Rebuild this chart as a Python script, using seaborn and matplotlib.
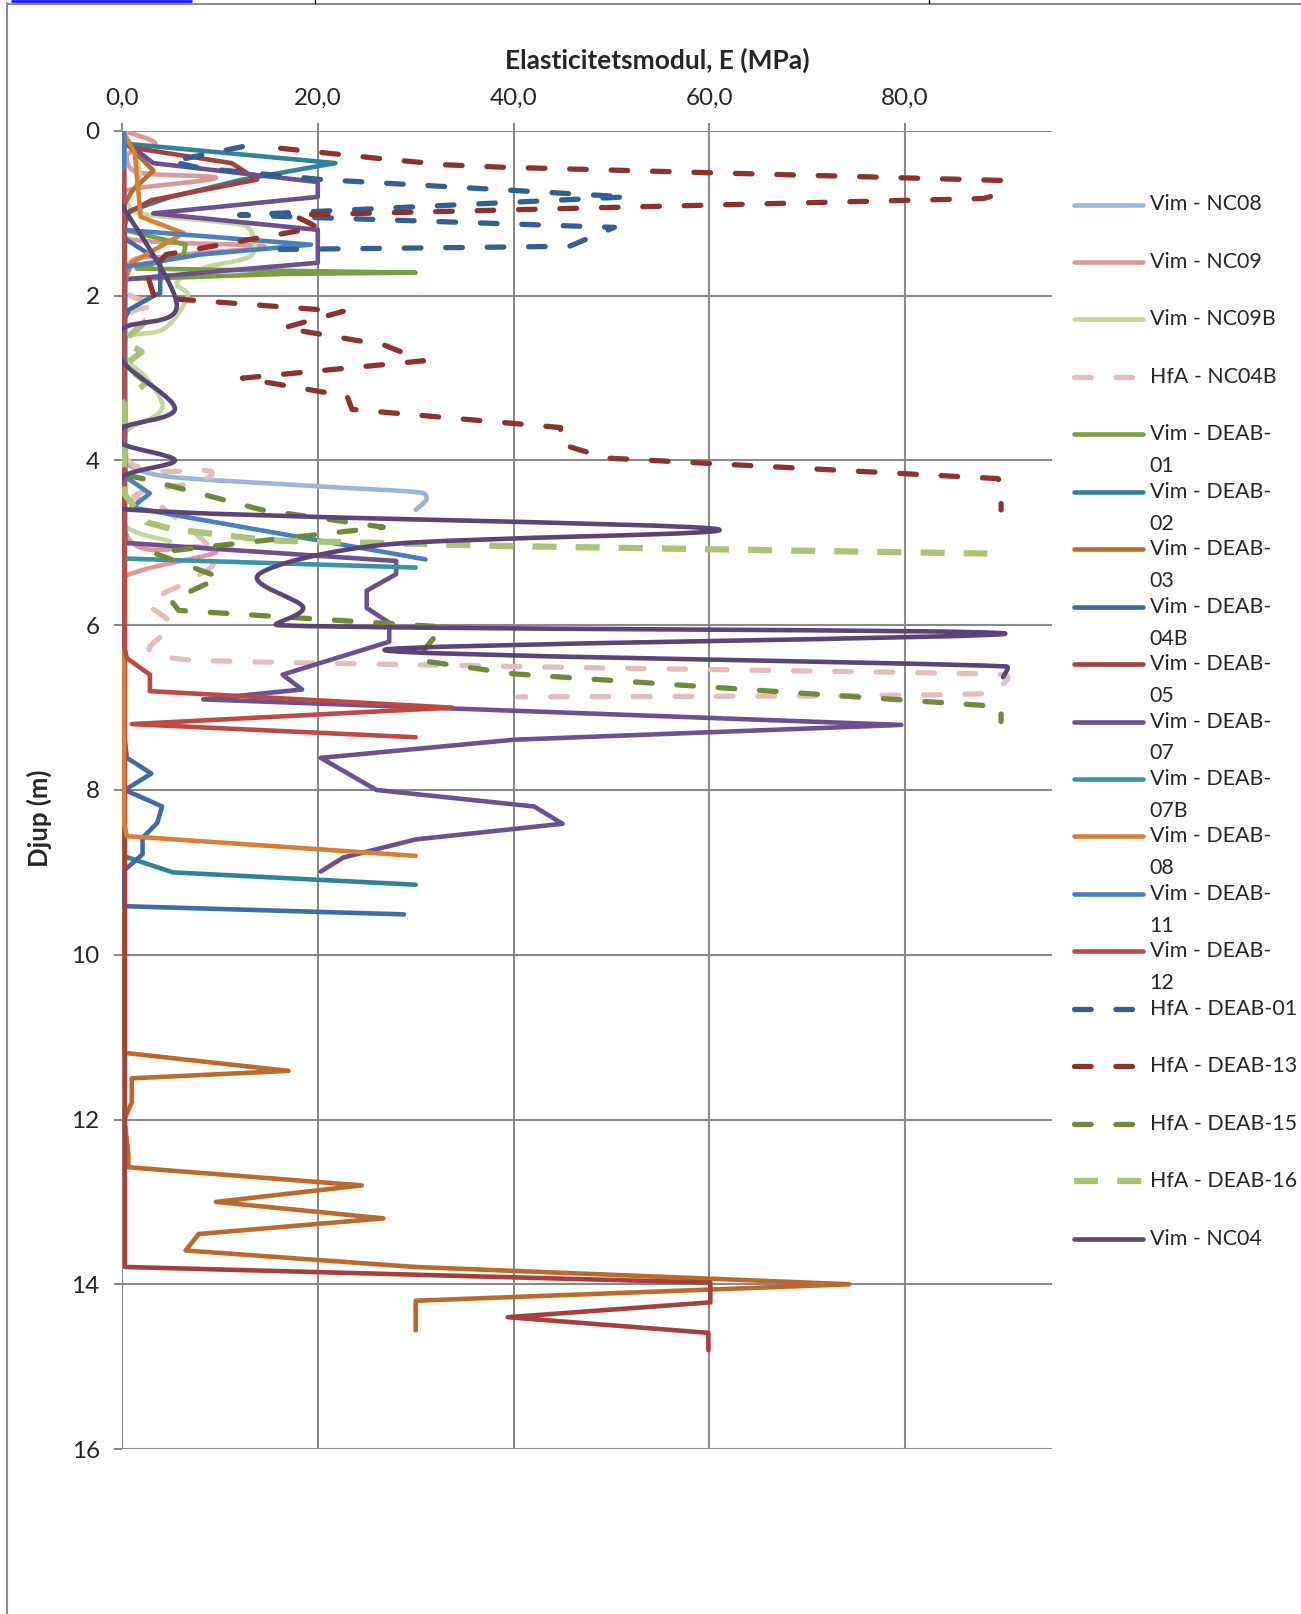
import numpy as np
import matplotlib
matplotlib.use("Agg")
import matplotlib.pyplot as plt
from matplotlib.path import Path
from matplotlib.patches import PathPatch
from matplotlib.lines import Line2D
import seaborn as sns

# ---------------- data ----------------
x_ticks = [0, 20, 40, 60, 80]
x_tick_labels = ["0,0", "20,0", "40,0", "60,0", "80,0"]
y_ticks = [0, 2, 4, 6, 8, 10, 12, 14, 16]
y_tick_labels = ["0", "2", "4", "6", "8", "10", "12", "14", "16"]

legend_labels = ["Vim - NC08", "Vim - NC09", "Vim - NC09B", "HfA - NC04B",
                 "Vim - DEAB-\n01", "Vim - DEAB-\n02", "Vim - DEAB-\n03", "Vim - DEAB-\n04B",
                 "Vim - DEAB-\n05", "Vim - DEAB-\n07", "Vim - DEAB-\n07B", "Vim - DEAB-\n08",
                 "Vim - DEAB-\n11", "Vim - DEAB-\n12", "HfA - DEAB-01", "HfA - DEAB-13",
                 "HfA - DEAB-15", "HfA - DEAB-16", "Vim - NC04"]

nc08_E = [0.1, 0.2, 4.3, 19.6, 30.6, 31.1, 30.0]
nc08_z = [3.9, 4.03, 4.19, 4.31, 4.39, 4.47, 4.6]

nc09_E = [0.2, 3.4, 0.6, 1.5, 9.6, 0.5, 0.3, 0.3, 14.5, 5.0, 0.5, 0.3, 8.0, 9.5, 3.0, 0.3]
nc09_z = [0.0, 0.15, 0.28, 0.5, 0.57, 0.72, 0.9, 1.3, 1.4, 1.52, 1.7, 4.85, 5.05, 5.12, 5.3, 5.4]

nc09b_E = [0.2, 1.2, 1.8, 0.6, 1.75, 12.3, 13.4, 13.1, 8.7, 6.2, 5.6, 6.7, 4.3, 0.5, 0.3, 2.5, 4.1, 3.5, 0.3, 0.3, 0.1, 4.9]
nc09b_z = [0.0, 0.25, 0.55, 0.85, 1.0, 1.14, 1.28, 1.52, 1.65, 1.77, 1.87, 2.01, 2.4, 2.5, 2.75, 3.0, 3.3, 3.45, 3.67, 4.1, 4.76, 4.98]

nc04b_E = [0.3, 0.3, 3.6, 0.3, 0.3, 9.0, 7.5, 3.0, 1.2, 3.5, 9.5, 7.0, 4.5, 2.8, 5.0, 2.8, 7.0, 40.0, 88.0, 90.5, 88.0, 40.4]
nc04b_z = [0.0, 1.9, 2.1, 2.3, 3.95, 4.13, 4.27, 4.35, 4.45, 4.52, 5.14, 5.45, 5.6, 5.75, 6.0, 6.3, 6.42, 6.5, 6.59, 6.63, 6.83, 6.87]

deab01_E = [0.2, 0.2, 6.5, 6.3, 1.5, 30.0, 16.5, 0.2, 0.2]
deab01_z = [0.0, 1.2, 1.38, 1.5, 1.67, 1.72, 1.735, 1.8, 4.3]

deab02_E = [0.0, 21.8, 12.3, 5.0, 0.8, 0.1, 0.1, 5.2, 30.0]
deab02_z = [0.15, 0.39, 0.59, 0.8, 0.97, 1.2, 8.8, 9.0, 9.15]

deab03_E = [0.5, 3.2, 1.0, 0.2, 0.2, 17.0, 1.0, 1.0, 0.25, 0.65, 0.65, 24.5, 9.6, 26.7, 7.85, 6.5, 29.9, 74.3, 30.0, 30.0]
deab03_z = [0.16, 0.48, 0.73, 0.9, 11.19, 11.41, 11.5, 11.79, 12.0, 12.42, 12.58, 12.8, 13.0, 13.2, 13.39, 13.59, 13.79, 14.0, 14.2, 14.56]

deab04b_E = [0.2, 0.2, 3.9, 3.9, 3.4, 0.7, 0.1, 0.1, 0.5, 3.0, 0.3, 4.1, 3.6, 2.1, 2.1, 0.1, 0.1, 28.8]
deab04b_z = [0.0, 1.3, 1.58, 1.97, 1.99, 2.17, 2.33, 7.2, 7.61, 7.8, 8.0, 8.2, 8.4, 8.58, 8.78, 8.99, 9.41, 9.51]

deab05_E = [0.0, 1.4, 11.2, 13.8, 3.0, 0.5, 0.3, 0.3, 60.1, 60.1, 39.4, 59.9, 59.9]
deab05_z = [0.15, 0.21, 0.39, 0.59, 0.84, 1.0, 1.1, 13.79, 13.98, 14.22, 14.4, 14.59, 14.8]

deab07_E = [0.0, 3.2, 20.0, 20.0, 3.2, 20.0, 20.0, 0.3, 0.3, 28.0, 28.0, 25.0, 25.0, 27.3, 27.3, 16.4, 18.4, 8.3, 79.6, 40.0, 20.3, 26.0, 42.1, 45.0, 30.0, 22.6, 20.3]
deab07_z = [0.1, 0.39, 0.62, 0.8, 1.0, 1.2, 1.6, 1.8, 5.0, 5.22, 5.38, 5.58, 5.79, 5.97, 6.2, 6.6, 6.78, 6.9, 7.21, 7.39, 7.61, 8.0, 8.2, 8.41, 8.6, 8.82, 8.99]

deab07b_E = [0.2, 0.2, 30.0]
deab07b_z = [0.0, 5.19, 5.3]

deab08_E = [0.0, 1.3, 1.9, 6.3, 1.0, 0.2, 0.2, 0.5, 30.0]
deab08_z = [0.0, 0.26, 1.04, 1.24, 1.6, 1.85, 8.4, 8.56, 8.8]

deab11_E = [0.2, 0.2, 19.3, 8.0, 0.3, 0.3, 0.5, 2.85, 1.0, 31.0]
deab11_z = [0.0, 1.2, 1.38, 1.5, 1.65, 4.1, 4.21, 4.4, 4.57, 5.2]

deab12_E = [0.2, 0.2, 0.5, 2.85, 2.85, 33.7, 1.0, 30.0]
deab12_z = [0.5, 6.25, 6.4, 6.6, 6.8, 7.0, 7.2, 7.36]

hfa01_E = [12.3, 5.0, 8.0, 20.5, 51.6, 12.0, 50.3, 45.7, 14.7]
hfa01_z = [0.19, 0.37, 0.45, 0.59, 0.80, 1.02, 1.17, 1.40, 1.44]

hfa13_E = [16.2, 26.0, 33.0, 39.0, 89.8, 89.8, 88.0, 17.5, 20.0, 4.5, 2.6, 3.3, 22.6, 16.5, 26.8, 30.8, 12.3, 23.0, 23.5, 44.8, 44.8, 49.5, 89.5, 89.8, 89.8]
hfa13_z = [0.21, 0.33, 0.41, 0.44, 0.6, 0.76, 0.82, 1.02, 1.17, 1.5, 1.75, 2.02, 2.19, 2.39, 2.6, 2.79, 3.0, 3.22, 3.38, 3.6, 3.8, 3.97, 4.22, 4.28, 4.6]

hfa15_E = [0.5, 2.5, 14.3, 26.7, 3.2, 10.0, 5.0, 5.8, 32.8, 30.0, 40.0, 87.6, 89.8, 89.8]
hfa15_z = [4.18, 4.23, 4.6, 4.81, 5.12, 5.42, 5.7, 5.82, 6.02, 6.42, 6.59, 6.97, 7.0, 7.17]

hfa16_E = [2.5, 0.2, 2.0, 0.2, 2.5, 0.2, 0.2, 2.5, 5.0, 15.0, 40.0, 88.4]
hfa16_z = [2.3, 2.55, 2.68, 2.85, 3.05, 3.3, 4.4, 4.75, 4.83, 4.97, 5.04, 5.13]

nc04_E = [0.0, 5.6, 0.1, 0.1, 5.4, 0.1, 0.1, 5.4, 0.1, 0.1, 60.6, 27.0, 14.0, 18.5, 16.0, 90.2, 26.8, 90.3, 90.0]
nc04_z = [0.9, 2.12, 2.4, 2.8, 3.37, 3.6, 3.8, 4.0, 4.2, 4.59, 4.83, 5.02, 5.38, 5.78, 6.0, 6.1, 6.3, 6.5, 6.63]

# ---------------- styling ----------------
sns.set_style("white")
plt.rcParams["font.family"] = ["Lato", "DejaVu Sans"]

W, H = 1301, 1614
fig = plt.figure(figsize=(W / 100, H / 100), dpi=100)
def fx(p): return p / W
def fy(p): return 1 - p / H

ax_l, ax_r, ax_t, ax_b = 122, 1052, 131, 1449
ax = fig.add_axes([fx(ax_l), fy(ax_b), fx(ax_r - ax_l), (ax_b - ax_t) / H])
XMAX, ZMAX = 95, 16
SX = (ax_r - ax_l) / XMAX          # px per MPa
SY = (ax_b - ax_t) / ZMAX          # px per m

SOLID_LW = 3.3
DASH_LW = 3.8
DASH = (0, (3.15, 4.7))
DASH16 = (0, (3.85, 3.05))

series = [
    (nc08_E, nc08_z, "#9BB4D8", "solid", True),
    (nc09_E, nc09_z, "#D99A98", "solid", True),
    (nc09b_E, nc09b_z, "#C3D7A0", "solid", True),
    (nc04b_E, nc04b_z, "#E3BDBC", "dash", True),
    (deab01_E, deab01_z, "#7B9C41", "solid", False),
    (deab02_E, deab02_z, "#338398", "solid", False),
    (deab03_E, deab03_z, "#B96A2C", "solid", False),
    (deab04b_E, deab04b_z, "#416BA5", "solid", False),
    (deab05_E, deab05_z, "#A5403E", "solid", False),
    (deab07_E, deab07_z, "#6C5190", "solid", False),
    (deab07b_E, deab07b_z, "#3B93AA", "solid", False),
    (deab08_E, deab08_z, "#D97E35", "solid", False),
    (deab11_E, deab11_z, "#4A7EBD", "solid", False),
    (deab12_E, deab12_z, "#BC4B48", "solid", False),
    (hfa01_E, hfa01_z, "#345F92", "dash", False),
    (hfa13_E, hfa13_z, "#8C3330", "dash", False),
    (hfa15_E, hfa15_z, "#6E8A3A", "dash", False),
    (hfa16_E, hfa16_z, "#A8C474", "dash16", False),
    (nc04_E, nc04_z, "#5B4476", "solid", True),
]

def style_of(kind):
    if kind == "solid":
        return dict(lw=SOLID_LW, ls="-", cap="round")
    if kind == "dash":
        return dict(lw=DASH_LW, ls=DASH, cap="round")
    return dict(lw=4.5, ls=DASH16, cap="butt")

def smooth_path(xs, ys, clamp=0.45):
    # Catmull-Rom style Bezier smoothing (like Excel "smoothed line"),
    # control handles limited relative to segment length (pixel space)
    P = np.column_stack([np.asarray(xs, float) * SX, np.asarray(ys, float) * SY])
    n = len(P)
    verts = [P[0]]
    codes = [Path.MOVETO]
    def lim(v, L):
        m = np.hypot(*v)
        return v if m <= clamp * L or m == 0 else v * (clamp * L / m)
    for i in range(n - 1):
        p0 = P[i - 1] if i > 0 else P[i]
        p1, p2 = P[i], P[i + 1]
        p3 = P[i + 2] if i + 2 < n else P[i + 1]
        L = np.hypot(*(p2 - p1))
        c1 = p1 + lim((p2 - p0) / 6.0, L)
        c2 = p2 - lim((p3 - p1) / 6.0, L)
        verts += [c1, c2, p2]
        codes += [Path.CURVE4] * 3
    V = np.array(verts)
    V[:, 0] /= SX
    V[:, 1] /= SY
    return Path(V, codes)

for k, (E, z, col, kind, smooth) in enumerate(series):
    st = style_of(kind)
    if smooth:
        patch = PathPatch(smooth_path(E, z), fill=False, edgecolor=col, lw=st["lw"],
                          linestyle=st["ls"], capstyle=st["cap"], joinstyle="round",
                          zorder=2 + k * 0.01)
        ax.add_patch(patch)
    else:
        sns.lineplot(x=E, y=z, sort=False, estimator=None, ax=ax, color=col,
                     lw=st["lw"], linestyle=st["ls"], legend=False,
                     solid_capstyle=st["cap"], dash_capstyle=st["cap"],
                     solid_joinstyle="round", dash_joinstyle="round",
                     zorder=2 + k * 0.01)

ax.set_xlim(0, XMAX)
ax.set_ylim(ZMAX, 0)
ax.xaxis.tick_top()
ax.set_xticks(x_ticks)
ax.set_xticklabels(x_tick_labels)
ax.set_yticks(y_ticks)
ax.set_yticklabels(y_tick_labels)
ax.set_xlabel("")
ax.set_ylabel("")
for s in ax.spines.values():
    s.set_visible(False)
ax.grid(True, color="#8a8a8a", lw=1.5)
ax.set_axisbelow(True)
ax.tick_params(axis="x", top=True, bottom=False, labeltop=True, labelbottom=False,
               length=6, width=1.5, color="#8a8a8a", pad=10, labelsize=17.5)
ax.tick_params(axis="y", left=True, length=6, width=1.5, color="#8a8a8a", pad=10,
               labelsize=17.5)

fig.text(fx(657), fy(60), "Elasticitetsmodul, E (MPa)", ha="center", va="center",
         fontsize=19, fontweight="bold")
fig.text(fx(39), fy(818), "Djup (m)", ha="center", va="center", rotation=90,
         fontsize=18.5, fontweight="bold")

# legend (Excel-style, fixed row height)
leg_y0, leg_dy, line2 = 204.5, 57.45, 31.9
hx0, hx1, tx = 1073.6, 1142.5, 1149.7
for i, ((E, z, col, kind, smooth), lab) in enumerate(zip(series, legend_labels)):
    st = style_of(kind)
    yy = leg_y0 + i * leg_dy
    ln = Line2D([fx(hx0), fx(hx1)], [fy(yy), fy(yy)], transform=fig.transFigure,
                color=col, lw=st["lw"], linestyle=st["ls"],
                solid_capstyle=st["cap"], dash_capstyle=st["cap"])
    fig.add_artist(ln)
    for j, part in enumerate(lab.split("\n")):
        fig.text(fx(tx), fy(yy + j * line2), part, ha="left", va="center", fontsize=15.4)

# page frame remnants
fig.add_artist(Line2D([fx(6.6), fx(6.6)], [0, fy(3)], transform=fig.transFigure,
                      color="#8c8c8c", lw=1.5))
fig.add_artist(Line2D([fx(6.6), 1], [fy(4), fy(4)], transform=fig.transFigure,
                      color="#8c8c8c", lw=1.5))
fig.add_artist(Line2D([fx(12), fx(191)], [fy(1), fy(1)], transform=fig.transFigure,
                      color="#1a1aff", lw=2))
for xv in (315, 929):
    fig.add_artist(Line2D([fx(xv), fx(xv)], [fy(0), fy(3)], transform=fig.transFigure,
                          color="black", lw=1))

fig.savefig("out.png", dpi=100)
